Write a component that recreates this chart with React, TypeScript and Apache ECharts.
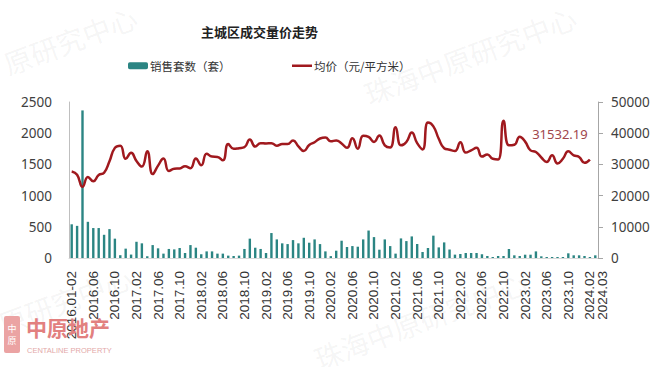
import React, { useEffect, useRef } from 'react';
import * as echarts from 'echarts';

const categories: string[] = [
  '2016.01-02', '2016.03', '2016.04', '2016.05', '2016.06', '2016.07', '2016.08', '2016.09', '2016.10', '2016.11', '2016.12',
  '2017.01', '2017.02', '2017.03', '2017.04', '2017.05', '2017.06', '2017.07', '2017.08', '2017.09', '2017.10', '2017.11', '2017.12',
  '2018.01', '2018.02', '2018.03', '2018.04', '2018.05', '2018.06', '2018.07', '2018.08', '2018.09', '2018.10', '2018.11', '2018.12',
  '2019.01', '2019.02', '2019.03', '2019.04', '2019.05', '2019.06', '2019.07', '2019.08', '2019.09', '2019.10', '2019.11', '2019.12',
  '2020.01', '2020.02', '2020.03', '2020.04', '2020.05', '2020.06', '2020.07', '2020.08', '2020.09', '2020.10', '2020.11', '2020.12',
  '2021.01', '2021.02', '2021.03', '2021.04', '2021.05', '2021.06', '2021.07', '2021.08', '2021.09', '2021.10', '2021.11', '2021.12',
  '2022.01', '2022.02', '2022.03', '2022.04', '2022.05', '2022.06', '2022.07', '2022.08', '2022.09', '2022.10', '2022.11', '2022.12',
  '2023.01', '2023.02', '2023.03', '2023.04', '2023.05', '2023.06', '2023.07', '2023.08', '2023.09', '2023.10', '2023.11', '2023.12',
  '2024.01', '2024.02', '2024.03',
];

// 销售套数（套）
const sales: number[] = [
  540, 515, 2365, 580, 480, 480, 372, 463, 310, 45, 150,
  55, 260, 235, 28, 207, 155, 70, 145, 138, 160, 80, 207,
  165, 60, 106, 106, 70, 70, 38, 32, 38, 145, 310, 165,
  145, 80, 400, 298, 235, 223, 287, 235, 324, 245, 298, 223,
  106, 30, 117, 277, 176, 191, 181, 298, 440, 335, 133, 298,
  191, 70, 314, 271, 346, 224, 96, 160, 358, 170, 250, 136,
  54, 64, 80, 80, 80, 60, 32, 16, 32, 32, 144, 43,
  32, 53, 53, 106, 27, 16, 16, 16, 16, 75, 43, 43,
  32, 16, 43,
];

// 均价（元/平方米）
const price: number[] = [
  27750, 26700, 22800, 26000, 24600, 26600, 27300, 31000, 35300, 36000, 31800,
  33700, 31100, 29300, 34200, 26900, 29600, 31900, 27900, 28600, 28700, 29400, 28800,
  31900, 29700, 33400, 32500, 32400, 31300, 36500, 35000, 35200, 35500, 38000, 35700,
  36800, 36700, 36800, 36000, 36500, 36500, 37700, 35800, 34300, 36200, 37100, 38300,
  38600, 37400, 37700, 36700, 35300, 38400, 35000, 39200, 38800, 37200, 39300, 36100,
  35400, 41900, 36100, 37200, 40200, 36800, 34800, 43400, 42200, 38200, 35200, 34700,
  34300, 37100, 33800, 34500, 35300, 32500, 33200, 31800, 31600, 44000, 36100, 36300,
  38900, 37300, 34500, 34000, 32200, 30800, 32900, 30300, 31800, 34200, 32900, 32400,
  30500, 31532.19,
];

const salesName = '销售套数（套）';
const priceName = '均价（元/平方米）';
const titleText = '主城区成交量价走势';

const CJK = '"Noto Sans CJK SC", "Noto Sans", sans-serif';
const XFONT = '"Liberation Sans", Arial, sans-serif';

export default function App() {
  const ref = useRef<HTMLDivElement>(null);

  useEffect(() => {
    if (!ref.current) return;
    const chart = echarts.init(ref.current, undefined, { renderer: 'svg' });
    const last = price.length - 1;
    const wm = (text: string, x: number, y: number) => ({
      type: 'text',
      x,
      y,
      rotation: 0.36,
      z: 100,
      silent: true,
      style: {
        text,
        fill: 'rgba(120,120,120,0.08)',
        font: '28px "Noto Sans CJK SC"',
        align: 'center',
        verticalAlign: 'middle',
      },
    });
    const xLabelBase = {
      rotate: 90,
      margin: 13,
      fontSize: 13.5,
      color: '#333',
      fontFamily: XFONT,
      hideOverlap: false,
    };
    chart.setOption({
      animation: false,
      backgroundColor: '#ffffff',
      title: {
        text: titleText,
        left: 201,
        top: 25,
        padding: 0,
        textStyle: { fontSize: 13, fontWeight: 'bold', color: '#222', fontFamily: CJK },
      },
      legend: [
        {
          data: [salesName],
          left: 128,
          top: 60,
          padding: 0,
          itemWidth: 20,
          itemHeight: 7,
          itemGap: 2,
          textStyle: { fontSize: 11.5, color: '#333', fontFamily: CJK, padding: [0, 0, 0, -3] },
        },
        {
          data: [{ name: priceName, icon: 'rect' }],
          left: 292,
          top: 60,
          padding: 0,
          itemWidth: 20,
          itemHeight: 2.5,
          textStyle: { fontSize: 11.5, color: '#333', fontFamily: CJK, padding: [0, 0, 0, -3] },
        },
      ],
      grid: { left: 69, right: 61, top: 102, bottom: 109, containLabel: false },
      xAxis: [
        {
          type: 'category',
          data: categories,
          boundaryGap: true,
          axisLine: { show: true, lineStyle: { color: '#d9d9d9' } },
          axisTick: { show: false },
          axisLabel: {
            ...xLabelBase,
            interval: (idx: number) => idx % 4 === 0,
          },
        },
        {
          type: 'category',
          data: categories,
          position: 'bottom',
          boundaryGap: true,
          axisLine: { show: false },
          axisTick: { show: false },
          splitLine: { show: false },
          axisLabel: {
            ...xLabelBase,
            verticalAlign: 'top',
            interval: (idx: number) => idx === categories.length - 1,
          },
        },
      ],
      yAxis: [
        {
          type: 'value',
          min: 0,
          max: 2500,
          interval: 500,
          position: 'left',
          axisLine: { show: true, lineStyle: { color: '#bfbfbf' } },
          axisTick: { show: false },
          splitLine: { show: false },
          axisLabel: {
            fontSize: 13.5,
            color: '#404040',
            margin: 17,
            fontFamily: '"Noto Sans", sans-serif',
            formatter: (v: number) => String(v),
          },
        },
        {
          type: 'value',
          min: 0,
          max: 50000,
          interval: 10000,
          position: 'right',
          axisLine: { show: true, lineStyle: { color: '#a6a6a6' } },
          axisTick: { show: true, length: 5, lineStyle: { color: '#a6a6a6' } },
          splitLine: { show: false },
          axisLabel: {
            fontSize: 13.5,
            color: '#404040',
            margin: 13,
            fontFamily: '"Noto Sans", sans-serif',
            formatter: (v: number) => String(v),
          },
        },
      ],
      series: [
        {
          name: salesName,
          type: 'bar',
          xAxisIndex: 0,
          yAxisIndex: 0,
          data: sales,
          barWidth: 2.4,
          itemStyle: { color: '#2B8583' },
        },
        {
          name: priceName,
          type: 'line',
          xAxisIndex: 0,
          yAxisIndex: 1,
          data: price.map((v, i) =>
            i === last
              ? {
                  value: v,
                  symbol: 'circle',
                  symbolSize: 1,
                  itemStyle: { color: 'rgba(0,0,0,0)' },
                  label: {
                    show: true,
                    position: 'top',
                    offset: [-30, -14],
                    formatter: () => String(v),
                    fontSize: 13,
                    color: '#A0464C',
                    fontFamily: '"Noto Sans", sans-serif',
                  },
                }
              : v
          ),
          smooth: 0.5,
          symbol: 'none',
          showSymbol: true,
          lineStyle: { color: '#A0191E', width: 2.5 },
          itemStyle: { color: '#A0191E' },
        },
      ],
      graphic: [
        wm('原研究中心', 70, 40),
        wm('珠海中原研究中心', 470, 55),
        wm('原研究中心', 65, 300),
        wm('珠海中原研究中心', 420, 320),
        {
          type: 'rect',
          shape: { x: 4, y: 316, width: 16, height: 37, r: 2 },
          style: { fill: '#EBA3A3' },
          z: 100,
        },
        {
          type: 'text',
          x: 12,
          y: 334,
          z: 101,
          style: {
            text: '中\n原',
            fill: '#ffffff',
            font: '9px "Noto Sans CJK SC"',
            align: 'center',
            verticalAlign: 'middle',
            lineHeight: 12,
          },
        },
        {
          type: 'text',
          x: 26,
          y: 327,
          z: 100,
          style: {
            text: '中原地产',
            fill: '#E2807F',
            font: 'bold 21px "Noto Sans CJK SC"',
            align: 'left',
            verticalAlign: 'middle',
          },
        },
        {
          type: 'text',
          x: 27,
          y: 350,
          z: 100,
          style: {
            text: 'CENTALINE PROPERTY',
            fill: '#E3A9A9',
            font: '7.5px "Liberation Sans"',
            align: 'left',
            verticalAlign: 'middle',
          },
        },
      ],
    });
    return () => chart.dispose();
  }, []);

  return <div ref={ref} style={{ width: 659, height: 367, position: 'absolute', left: 0, top: 0 }} />;
}
